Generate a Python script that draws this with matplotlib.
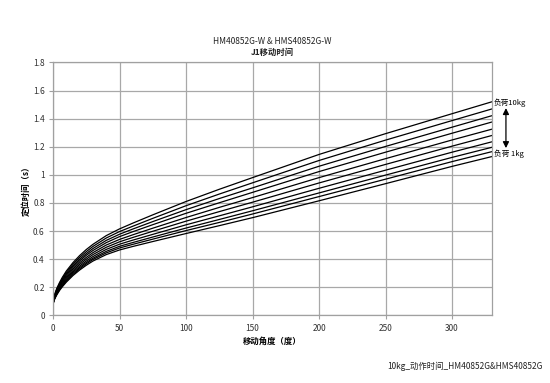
import matplotlib
matplotlib.use("Agg")
import matplotlib.pyplot as plt

plt.rcParams['font.family'] = ['Noto Sans CJK SC', 'DejaVu Sans']

# Data
angle = [0, 1, 2, 3, 5, 7, 10, 15, 20, 25, 30, 40, 50, 60, 75, 100, 125, 150, 200, 250, 300, 330]

time_1kg  = [0.080, 0.110, 0.130, 0.148, 0.178, 0.203, 0.236, 0.283, 0.322, 0.356, 0.386, 0.432, 0.465, 0.490, 0.525, 0.582, 0.638, 0.695, 0.815, 0.937, 1.060, 1.130]
time_2kg  = [0.081, 0.113, 0.134, 0.152, 0.183, 0.209, 0.243, 0.291, 0.331, 0.366, 0.397, 0.444, 0.479, 0.505, 0.542, 0.603, 0.661, 0.721, 0.845, 0.969, 1.094, 1.165]
time_3kg  = [0.082, 0.115, 0.137, 0.156, 0.188, 0.214, 0.249, 0.299, 0.340, 0.375, 0.406, 0.455, 0.491, 0.518, 0.557, 0.621, 0.682, 0.744, 0.871, 0.998, 1.124, 1.196]
time_4kg  = [0.083, 0.118, 0.141, 0.161, 0.193, 0.221, 0.257, 0.308, 0.350, 0.386, 0.418, 0.469, 0.506, 0.535, 0.576, 0.644, 0.708, 0.772, 0.904, 1.033, 1.161, 1.235]
time_5kg  = [0.084, 0.122, 0.145, 0.166, 0.200, 0.229, 0.266, 0.318, 0.362, 0.399, 0.432, 0.484, 0.523, 0.554, 0.598, 0.670, 0.738, 0.805, 0.942, 1.074, 1.204, 1.280]
time_6kg  = [0.085, 0.125, 0.150, 0.172, 0.207, 0.237, 0.276, 0.329, 0.374, 0.412, 0.446, 0.500, 0.540, 0.573, 0.620, 0.696, 0.768, 0.838, 0.980, 1.115, 1.248, 1.325]
time_7kg  = [0.086, 0.129, 0.155, 0.178, 0.214, 0.245, 0.286, 0.341, 0.387, 0.427, 0.461, 0.517, 0.560, 0.595, 0.645, 0.726, 0.801, 0.875, 1.023, 1.161, 1.296, 1.376]
time_8kg  = [0.088, 0.132, 0.160, 0.183, 0.221, 0.253, 0.295, 0.352, 0.399, 0.439, 0.475, 0.533, 0.577, 0.614, 0.667, 0.752, 0.831, 0.907, 1.061, 1.202, 1.339, 1.421]
time_9kg  = [0.089, 0.136, 0.165, 0.189, 0.228, 0.261, 0.305, 0.363, 0.412, 0.453, 0.490, 0.550, 0.596, 0.634, 0.690, 0.780, 0.863, 0.943, 1.102, 1.247, 1.386, 1.469]
time_10kg = [0.090, 0.140, 0.170, 0.195, 0.235, 0.270, 0.315, 0.375, 0.425, 0.468, 0.505, 0.567, 0.615, 0.656, 0.715, 0.810, 0.897, 0.980, 1.145, 1.293, 1.435, 1.520]

series = [time_1kg, time_2kg, time_3kg, time_4kg, time_5kg,
          time_6kg, time_7kg, time_8kg, time_9kg, time_10kg]

x_ticks = [0, 50, 100, 150, 200, 250, 300]
x_tick_labels = ['0', '50', '100', '150', '200', '250', '300']
y_ticks = [0, 0.2, 0.4, 0.6, 0.8, 1.0, 1.2, 1.4, 1.6, 1.8]
y_tick_labels = ['0', '0.2', '0.4', '0.6', '0.8', '1', '1.2', '1.4', '1.6', '1.8']

title_line1 = 'HM40852G-W & HMS40852G-W'
title_line2 = 'J1移动时间'
x_label = '移动角度（度）'
y_label = '定位时间（s）'
label_top = '负荷10kg'
label_bottom = '负荷 1kg'
footer = '10kg_动作时间_HM40852G&HMS40852G'

fig = plt.figure(figsize=(5.5, 3.83), dpi=100)
ax = fig.add_axes([0.0964, 0.1768, 0.7981, 0.6602])

for s in series:
    ax.plot(angle, s, color='black', linewidth=0.9, solid_joinstyle='round')

ax.set_xlim(0, 330)
ax.set_ylim(0, 1.8)
ax.set_xticks(x_ticks)
ax.set_xticklabels(x_tick_labels)
ax.set_yticks(y_ticks)
ax.set_yticklabels(y_tick_labels)
ax.grid(True, color='#a8a8a8', linewidth=0.9)
ax.set_axisbelow(True)
for sp in ax.spines.values():
    sp.set_color('#a0a0a0')
    sp.set_linewidth(0.9)
ax.tick_params(axis='both', colors='#a0a0a0', labelcolor='#333333',
               labelsize=6, length=3, width=0.8, pad=3)

ax.set_xlabel(x_label, fontsize=6, fontweight='bold')
ax.xaxis.set_label_coords(0.5, -0.085)
ax.set_ylabel(y_label, fontsize=6, fontweight='bold')
ax.yaxis.set_label_coords(-0.05, 0.5)

fig.text(0.495, 0.892, title_line1, ha='center', va='center', fontsize=6, color='#222222')
fig.text(0.495, 0.862, title_line2, ha='center', va='center', fontsize=6, fontweight='bold', color='#222222')

ax.text(331.5, 1.513, label_top, fontsize=5.5, ha='left', va='center', clip_on=False)
ax.text(331.5, 1.148, label_bottom, fontsize=5.5, ha='left', va='center', clip_on=False)
ax.annotate('', xy=(340.5, 1.475), xytext=(340.5, 1.19),
            xycoords='data', textcoords='data', annotation_clip=False,
            arrowprops=dict(arrowstyle='<|-|>', color='black', lw=0.9,
                            mutation_scale=9, shrinkA=0, shrinkB=0))

fig.text(0.845, 0.044, footer, ha='center', va='center', fontsize=6, color='#222222')

fig.savefig('out.png', dpi=100)
